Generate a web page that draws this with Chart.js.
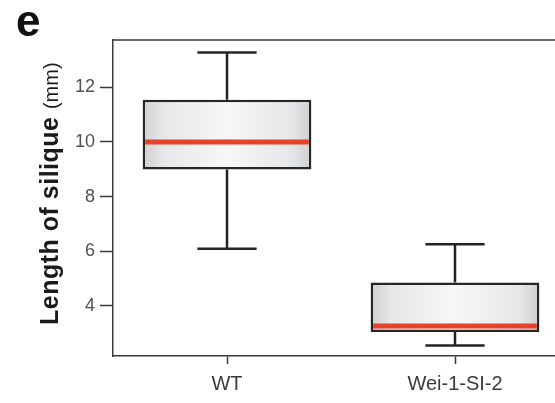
<!DOCTYPE html>
<html>
<head>
<meta charset="utf-8">
<script src="https://cdn.jsdelivr.net/npm/chart.js@4"></script>
<style>
  html, body { margin: 0; padding: 0; background: #fff; overflow: hidden; }
  #wrap { position: relative; width: 570px; height: 403px; }
</style>
</head>
<body>
<div id="wrap"><canvas id="boxChart"></canvas></div>
<script>
// data
const categories = ["WT", "Wei-1-SI-2"];
const whiskerLow = [6.09, 2.55];
const q1 = [8.99, 3.05];
const median = [10.0, 3.27];
const q3 = [11.54, 4.86];
const whiskerHigh = [13.27, 6.26];
const yTicks = [4, 6, 8, 10, 12];

const BOX_FRAC = 0.74;
const CAP_FRAC = 0.26;

function boxHalfWidth(chart) {
  const x = chart.scales.x;
  return (x.width / categories.length) * BOX_FRAC / 2;
}

// whiskers, median, top frame, labels
const boxExtras = {
  id: "boxExtras",
  afterDatasetsDraw(chart) {
    const { ctx, chartArea } = chart;
    const x = chart.scales.x;
    const y = chart.scales.y;
    const hw = boxHalfWidth(chart);
    const capHw = (x.width / categories.length) * CAP_FRAC / 2;

    ctx.save();
    ctx.strokeStyle = "#232323";
    ctx.lineWidth = 2.5;
    ctx.lineCap = "butt";
    categories.forEach((c, i) => {
      const cx = x.getPixelForValue(i);
      const yHi = y.getPixelForValue(whiskerHigh[i]);
      const yLo = y.getPixelForValue(whiskerLow[i]);
      ctx.beginPath();
      ctx.moveTo(cx, y.getPixelForValue(q3[i]));
      ctx.lineTo(cx, yHi);
      ctx.moveTo(cx - capHw, yHi);
      ctx.lineTo(cx + capHw, yHi);
      ctx.moveTo(cx, y.getPixelForValue(q1[i]));
      ctx.lineTo(cx, yLo);
      ctx.moveTo(cx - capHw, yLo);
      ctx.lineTo(cx + capHw, yLo);
      ctx.stroke();

      // median
      const ym = y.getPixelForValue(median[i]);
      ctx.beginPath();
      ctx.strokeStyle = "#e5432a";
      ctx.lineWidth = 5;
      ctx.moveTo(cx - hw + 2.5, ym);
      ctx.lineTo(cx + hw - 2.5, ym);
      ctx.stroke();
      ctx.strokeStyle = "#232323";
      ctx.lineWidth = 2.5;
    });

    // frame top + right
    ctx.beginPath();
    ctx.strokeStyle = "#3a3a3a";
    ctx.lineWidth = 1.5;
    ctx.moveTo(chartArea.left, chartArea.top);
    ctx.lineTo(chartArea.right, chartArea.top);
    ctx.lineTo(chartArea.right, chartArea.bottom);
    ctx.stroke();
    ctx.restore();
  },
  afterDraw(chart) {
    const { ctx } = chart;
    ctx.save();
    // panel letter
    ctx.fillStyle = "#111";
    ctx.font = "bold 44px 'Liberation Sans', Arial, sans-serif";
    ctx.textBaseline = "alphabetic";
    ctx.textAlign = "left";
    ctx.fillText("e", 16, 36);

    // y title: bold part + regular unit
    ctx.translate(58, 325);
    ctx.rotate(-Math.PI / 2);
    ctx.fillStyle = "#1a1a1a";
    ctx.font = "bold 25px 'Liberation Sans', Arial, sans-serif";
    ctx.letterSpacing = "0.5px";
    const main = "Length of silique";
    ctx.fillText(main, 0, 0);
    const w = ctx.measureText(main + " ").width;
    ctx.letterSpacing = "0px";
    ctx.font = "20px 'Liberation Sans', Arial, sans-serif";
    ctx.fillText("(mm)", w, 0);
    ctx.restore();
  }
};

const ctx = document.getElementById("boxChart").getContext("2d");

new Chart(ctx, {
  type: "bar",
  data: {
    labels: categories,
    datasets: [
      {
        data: categories.map((c, i) => [q1[i], q3[i]]),
        barPercentage: BOX_FRAC,
        categoryPercentage: 1,
        borderColor: "#262626",
        borderWidth: 2.5,
        borderSkipped: false,
        backgroundColor: function(context) {
          const chart = context.chart;
          if (!chart.chartArea) return "#eeeeee";
          const cx = chart.scales.x.getPixelForValue(context.dataIndex);
          const hw = boxHalfWidth(chart);
          const g = chart.ctx.createLinearGradient(cx - hw, 0, cx + hw, 0);
          g.addColorStop(0, "#cfd0d2");
          g.addColorStop(0.12, "#e6e7e8");
          g.addColorStop(0.5, "#f7f7f7");
          g.addColorStop(0.88, "#e6e7e8");
          g.addColorStop(1, "#cfd0d2");
          return g;
        },
      },
    ],
  },
  options: {
    responsive: true,
    maintainAspectRatio: false,
    animation: false,
    layout: {
      padding: { top: 40, right: 1, left: 0, bottom: 0 },
    },
    plugins: {
      legend: { display: false },
      tooltip: { enabled: false },
    },
    scales: {
      x: {
        offset: true,
        grid: {
          offset: false,
          drawOnChartArea: false,
          drawTicks: true,
          tickLength: 8,
          tickWidth: 1.5,
          color: "#3a3a3a",
        },
        border: { display: true, color: "#3a3a3a", width: 1.5 },
        ticks: {
          color: "#3c3c3c",
          padding: 8,
          font: { family: "'Liberation Sans', Arial, sans-serif", size: 20 },
        },
        afterFit: (s) => { s.height = 47; },
      },
      y: {
        min: 2.17,
        max: 13.73,
        grid: {
          drawOnChartArea: false,
          drawTicks: true,
          tickLength: 13,
          tickWidth: 1.5,
          color: "#3a3a3a",
        },
        border: { display: true, color: "#3a3a3a", width: 1.5 },
        ticks: {
          color: "#505050",
          padding: 5,
          font: { family: "'Liberation Sans', Arial, sans-serif", size: 18 },
        },
        afterBuildTicks: (s) => { s.ticks = yTicks.map((v) => ({ value: v })); },
        afterFit: (s) => { s.width = 113; },
      },
    },
  },
  plugins: [boxExtras],
});
</script>
</body>
</html>
